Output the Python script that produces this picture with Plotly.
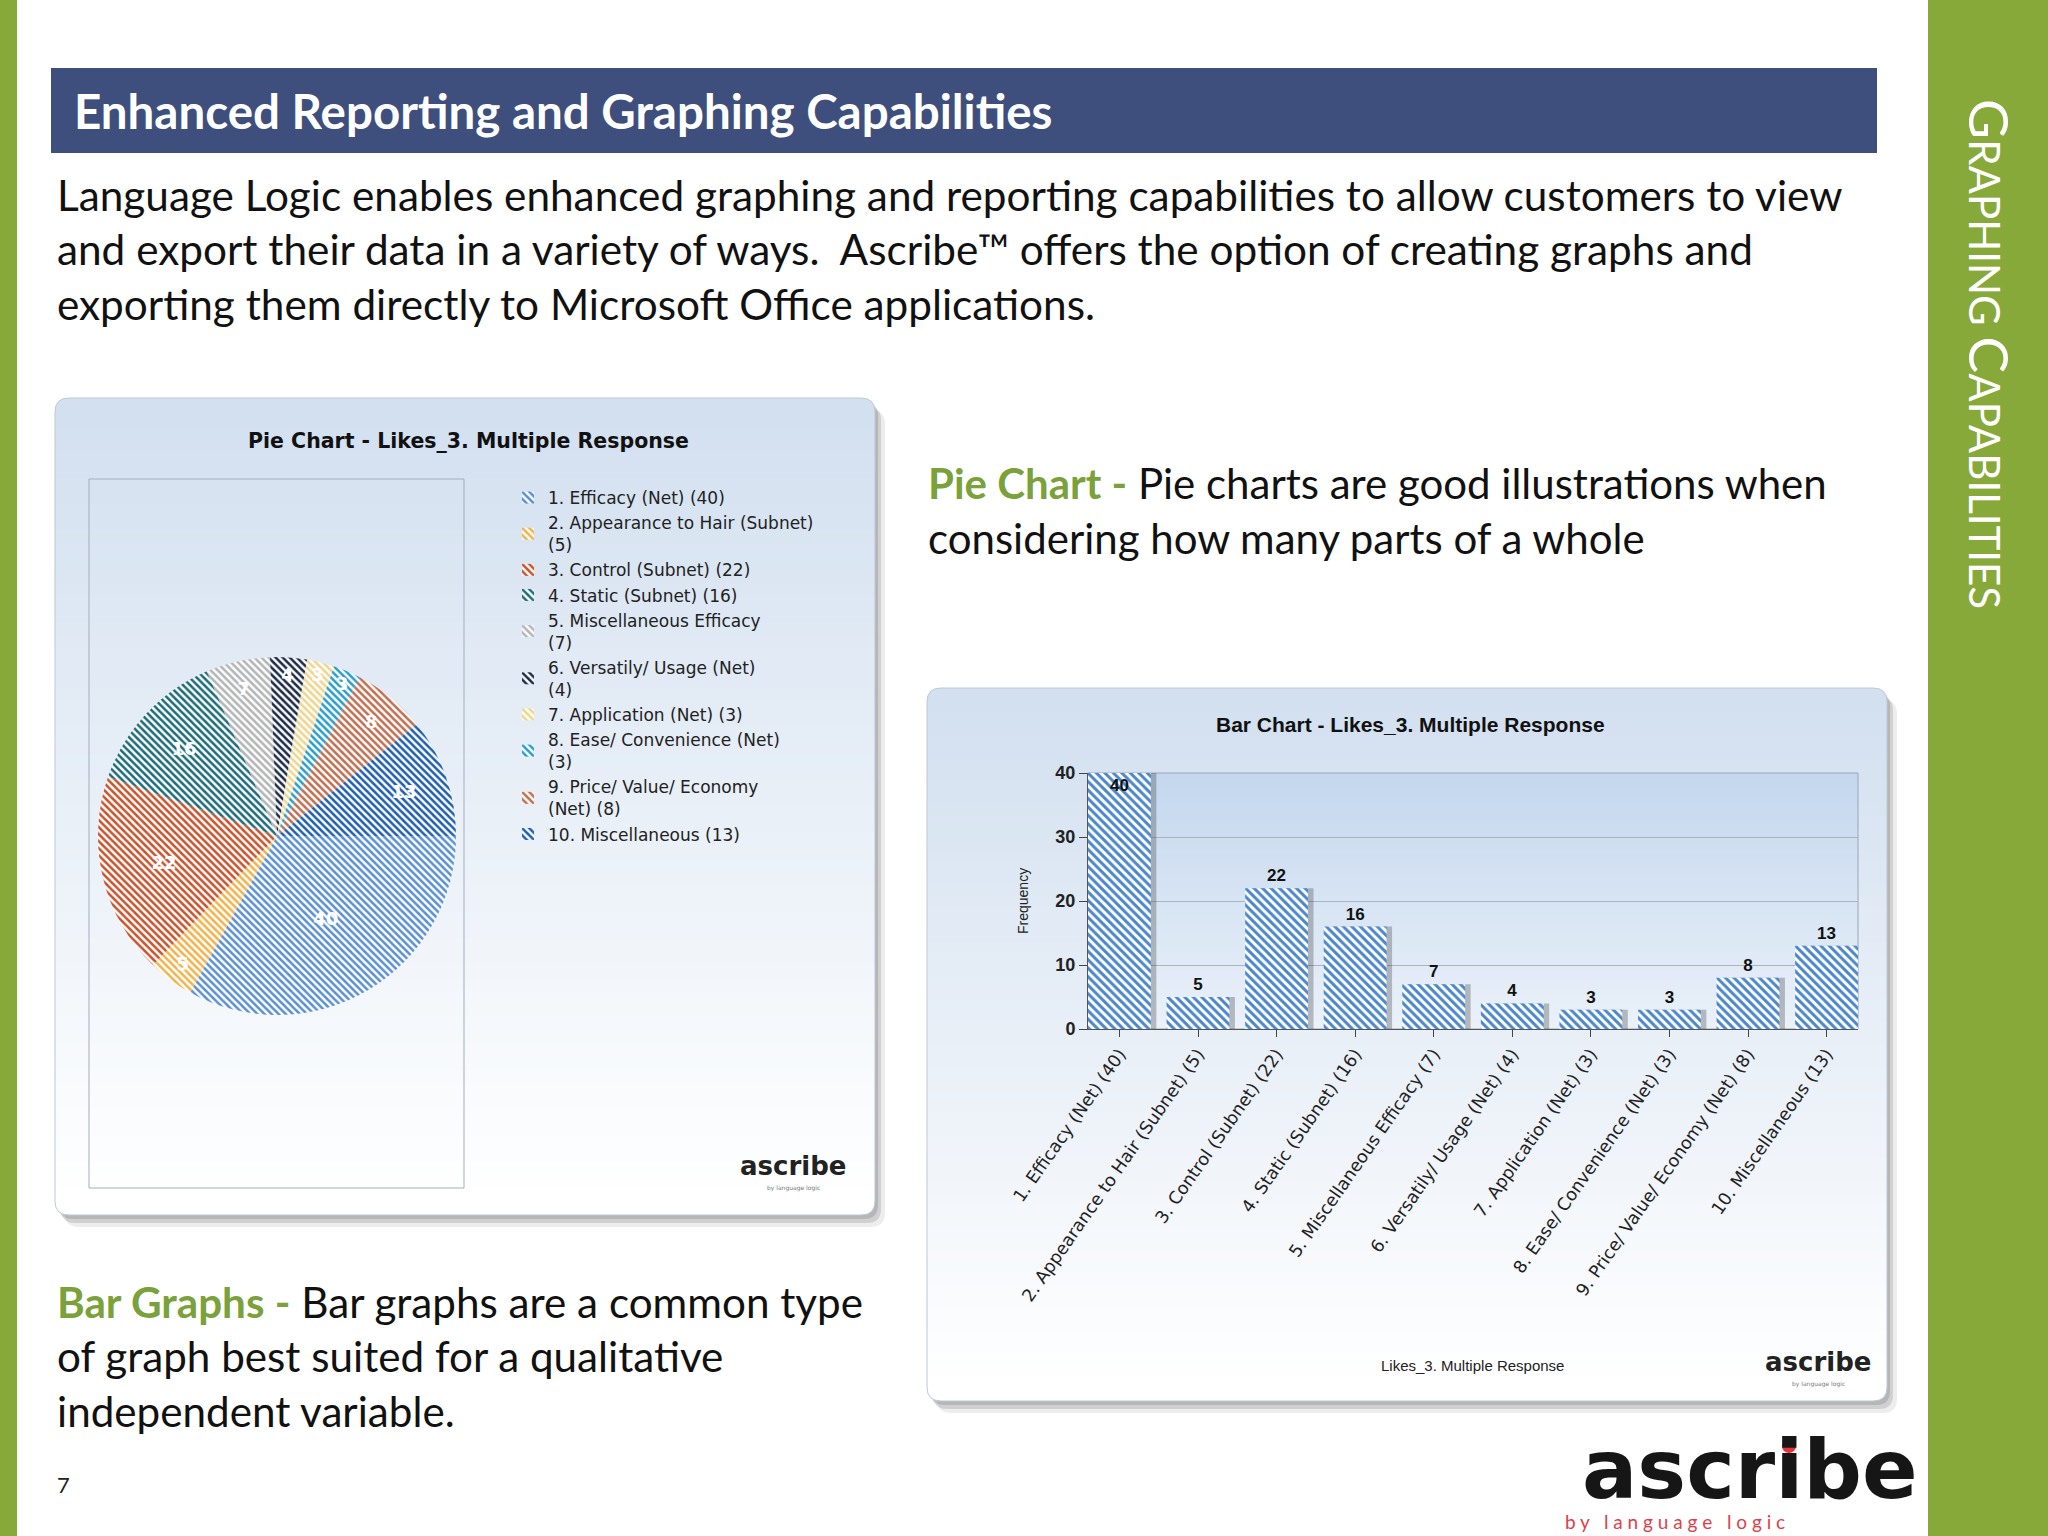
import plotly.graph_objects as go

W, H = 2048, 1536

# ---------------- data ----------------
categories = [
    "1. Efficacy (Net) (40)",
    "2. Appearance to Hair (Subnet) (5)",
    "3. Control (Subnet) (22)",
    "4. Static (Subnet) (16)",
    "5. Miscellaneous Efficacy (7)",
    "6. Versatily/ Usage (Net) (4)",
    "7. Application (Net) (3)",
    "8. Ease/ Convenience (Net) (3)",
    "9. Price/ Value/ Economy (Net) (8)",
    "10. Miscellaneous (13)",
]
pie_legend_labels = [
    "1. Efficacy (Net) (40)",
    "2. Appearance to Hair (Subnet)<br>(5)",
    "3. Control (Subnet) (22)",
    "4. Static (Subnet) (16)",
    "5. Miscellaneous Efficacy<br>(7)",
    "6. Versatily/ Usage (Net)<br>(4)",
    "7. Application (Net) (3)",
    "8. Ease/ Convenience (Net)<br>(3)",
    "9. Price/ Value/ Economy<br>(Net) (8)",
    "10. Miscellaneous (13)",
]
frequency = [40, 5, 22, 16, 7, 4, 3, 3, 8, 13]
slice_colors = ["#5a8fd0", "#f2b24a", "#c8522a", "#1d6b78", "#b4b4b4",
                "#1b2a45", "#f0d68a", "#2a9dc8", "#c06e4e", "#1f5dae"]
bar_color = "#4a86c8"
y_ticks = [0, 10, 20, 30, 40]
y_max = 40

pie_title = "Pie Chart - Likes_3. Multiple Response"
bar_title = "Bar Chart - Likes_3. Multiple Response"
bar_xtitle = "Likes_3. Multiple Response"
bar_ytitle = "Frequency"

# ---------------- helpers ----------------
def X(px):
    return px / W


def Y(py):
    return 1 - py / H


shapes = []
annotations = []


def rect(x0, y0, x1, y1, fill=None, line=None, lw=0, layer="below"):
    shapes.append(dict(type="rect", xref="paper", yref="paper",
                       x0=X(x0), x1=X(x1), y0=Y(y1), y1=Y(y0),
                       fillcolor=fill if fill else "rgba(0,0,0,0)",
                       line=dict(color=line if line else "rgba(0,0,0,0)", width=lw),
                       layer=layer))


def path(d, fill=None, line=None, lw=0, layer="below"):
    shapes.append(dict(type="path", xref="paper", yref="paper", path=d,
                       fillcolor=fill if fill else "rgba(0,0,0,0)",
                       line=dict(color=line if line else "rgba(0,0,0,0)", width=lw),
                       layer=layer))


def P(px, py):
    return f"{X(px):.6f},{Y(py):.6f}"


def rrect_d(x0, y0, x1, y1, r):
    return (f"M {P(x0 + r, y0)} L {P(x1 - r, y0)} Q {P(x1, y0)} {P(x1, y0 + r)} "
            f"L {P(x1, y1 - r)} Q {P(x1, y1)} {P(x1 - r, y1)} L {P(x0 + r, y1)} "
            f"Q {P(x0, y1)} {P(x0, y1 - r)} L {P(x0, y0 + r)} Q {P(x0, y0)} {P(x0 + r, y0)} Z")


def hex2rgb(h):
    h = h.lstrip("#")
    return tuple(int(h[i:i + 2], 16) for i in (0, 2, 4))


def mix(c1, c2, t):
    a, b = hex2rgb(c1), hex2rgb(c2)
    return "rgb(%d,%d,%d)" % tuple(round(a[i] + (b[i] - a[i]) * t) for i in range(3))


def gradient(x0, y0, x1, y1, ctop, cbot, n):
    h = (y1 - y0) / n
    for i in range(n):
        t = (i + 0.5) / n
        rect(x0, y0 + i * h, x1, min(y1, y0 + (i + 1) * h + 1), fill=mix(ctop, cbot, t))


def panel(x0, y0, x1, y1, r, ctop, cbot, n=60):
    # soft shadow
    path(rrect_d(x0 + 10, y0 + 12, x1 + 10, y1 + 12, r), fill="rgba(0,0,0,0.07)")
    path(rrect_d(x0 + 6, y0 + 8, x1 + 6, y1 + 8, r), fill="rgba(0,0,0,0.12)")
    path(rrect_d(x0 + 3, y0 + 4, x1 + 3, y1 + 4, r), fill="rgba(0,0,0,0.12)")
    # top strip with rounded corners
    rect(x0 + r, y0, x1 - r, y0 + r + 1, fill=ctop)
    path(f"M {P(x0, y0 + r + 1)} L {P(x0, y0 + r)} Q {P(x0, y0)} {P(x0 + r, y0)} L {P(x0 + r, y0 + r + 1)} Z", fill=ctop)
    path(f"M {P(x1, y0 + r + 1)} L {P(x1, y0 + r)} Q {P(x1, y0)} {P(x1 - r, y0)} L {P(x1 - r, y0 + r + 1)} Z", fill=ctop)
    gradient(x0, y0 + r, x1, y1 - r, ctop, cbot, n)
    rect(x0 + r, y1 - r - 1, x1 - r, y1, fill=cbot)
    path(f"M {P(x0, y1 - r - 1)} L {P(x0, y1 - r)} Q {P(x0, y1)} {P(x0 + r, y1)} L {P(x0 + r, y1 - r - 1)} Z", fill=cbot)
    path(f"M {P(x1, y1 - r - 1)} L {P(x1, y1 - r)} Q {P(x1, y1)} {P(x1 - r, y1)} L {P(x1 - r, y1 - r - 1)} Z", fill=cbot)
    path(rrect_d(x0, y0, x1, y1, r), line="rgba(190,200,215,1)", lw=1)


def ann(text, px, py, size, color="#111111", family="Lato", xanchor="left",
        yanchor="middle", angle=0):
    annotations.append(dict(text=text, x=X(px), y=Y(py), xref="paper", yref="paper",
                            xanchor=xanchor, yanchor=yanchor, showarrow=False,
                            textangle=angle,
                            font=dict(size=size, color=color, family=family)))


# ---------------- slide decoration ----------------
green = "#87a93a"
rect(0, 0, 17, H, fill=green)
rect(1928, 0, W, H, fill=green)
rect(51, 68, 1877, 153, fill="#3e4f7d")

ann("<b>Enhanced Reporting and Graphing Capabilities</b>", 72, 110, 47.5, color="#ffffff")
body = [
    "Language Logic enables enhanced graphing and reporting capabilities to allow customers to view",
    "and export their data in a variety of ways.  Ascribe\u2122 offers the option of creating graphs and",
    "exporting them directly to Microsoft Office applications.",
]
for i, line in enumerate(body):
    ann(line, 55, 194 + i * 54.5, 42.3)

ann('<span style="font-size:55px">G</span>RAPHING <span style="font-size:55px">C</span>APABILITIES',
    1990, 354, 42, color="#ffffff", xanchor="center", angle=90)

ann('<b><span style="color:#7ba23a">Pie Chart -</span></b> Pie charts are good illustrations when', 926, 483, 42)
ann("considering how many parts of a whole", 926, 538, 42)

ann('<b><span style="color:#7ba23a">Bar Graphs -</span></b> Bar graphs are a common type', 55, 1301, 42.2)
ann("of graph best suited for a qualitative", 55, 1355, 42.2)
ann("independent variable.", 55, 1410, 42.2)

ann("7", 55, 1484, 22, color="#222222")

# big logo
ann("<b>ascribe</b>", 1750, 1469, 82, color="#161616", family="DejaVu Sans", xanchor="center")
shapes.append(dict(type="circle", xref="paper", yref="paper",
                   x0=X(1782), x1=X(1796), y0=Y(1453), y1=Y(1439),
                   fillcolor="#e8333b", line=dict(width=0), layer="above"))
ann("b y   l a n g u a g e   l o g i c", 1675, 1521, 19, color="#e0404a", family="Lato", xanchor="center")

# ---------------- pie panel ----------------
panel(55, 398, 875, 1215, 14, "#d3e0f0", "#ffffff")
rect(89, 479, 464, 1188, line="#a3adbd", lw=1)
ann("<b>" + pie_title + "</b>", 468, 441, 20.5, color="#111111", family="DejaVu Sans", xanchor="center")
ann("<b>ascribe</b>", 793, 1166, 26, color="#222222", family="DejaVu Sans", xanchor="center")
ann("by language logic", 793, 1188, 6, color="#777777", family="DejaVu Sans", xanchor="center")

# ---------------- bar panel ----------------
panel(927, 688, 1887, 1401, 14, "#d3e0f0", "#ffffff")
gradient(1088, 773, 1858, 1029, "#c4d7ee", "#eaf1f9", 40)
rect(1088, 773, 1858, 1029, line="#9aa6b6", lw=1)
ann("<b>" + bar_title + "</b>", 1410, 725, 21, color="#111111", family="Liberation Sans", xanchor="center")
ann(bar_xtitle, 1472, 1365, 15, color="#222222", family="Liberation Sans Narrow, Liberation Sans", xanchor="center")
ann(bar_ytitle, 1023, 901, 14, color="#222222", family="Liberation Sans Narrow, Liberation Sans",
    xanchor="center", angle=-90)
ann("<b>ascribe</b>", 1818, 1362, 26, color="#222222", family="DejaVu Sans", xanchor="center")
ann("by language logic", 1818, 1384, 6, color="#777777", family="DejaVu Sans", xanchor="center")

# ---------------- traces ----------------
fig = go.Figure()

pie_cx, pie_cy, pie_r = 277, 836, 179
fig.add_trace(go.Pie(
    labels=pie_legend_labels,
    values=frequency,
    sort=False,
    direction="clockwise",
    rotation=90,
    textinfo="value",
    texttemplate="<b>%{value}</b>",
    textposition="inside",
    insidetextorientation="horizontal",
    textfont=dict(family="DejaVu Sans", size=18, color="#ffffff"),
    marker=dict(colors=slice_colors, line=dict(width=0),
                pattern=dict(shape="\\", fillmode="replace", bgcolor="rgba(255,255,255,0.85)",
                             size=5, solidity=0.5)),
    domain=dict(x=[X(pie_cx - pie_r), X(pie_cx + pie_r)],
                y=[Y(pie_cy + pie_r), Y(pie_cy - pie_r)]),
    hoverinfo="skip",
    showlegend=True,
))

# bar shadows
fig.add_trace(go.Bar(
    x=categories, y=frequency, width=0.8, offset=-0.33,
    marker=dict(color="rgba(40,40,40,0.28)", line=dict(width=0)),
    showlegend=False, hoverinfo="skip", xaxis="x", yaxis="y",
))

text_pos = ["inside" if v >= 0.95 * y_max else "outside" for v in frequency]
fig.add_trace(go.Bar(
    x=categories, y=frequency, width=0.8, offset=-0.4,
    marker=dict(color=bar_color, line=dict(width=0),
                pattern=dict(shape="\\", fillmode="replace", bgcolor="#ffffff",
                             size=6, solidity=0.5)),
    text=[str(v) for v in frequency],
    textposition=text_pos,
    insidetextanchor="end",
    textfont=dict(family="Liberation Sans Narrow, Liberation Sans", size=17, color="#111111"),
    texttemplate="<b>%{text}</b>",
    cliponaxis=False,
    showlegend=False, hoverinfo="skip", xaxis="x", yaxis="y",
))

fig.update_layout(
    width=W, height=H,
    margin=dict(l=0, r=0, t=0, b=0, autoexpand=False),
    paper_bgcolor="#ffffff",
    plot_bgcolor="rgba(0,0,0,0)",
    barmode="overlay",
    hovermode=False,
    shapes=shapes,
    annotations=annotations,
    showlegend=True,
    legend=dict(x=X(508), y=Y(480), xanchor="left", yanchor="top",
                font=dict(family="DejaVu Sans", size=17, color="#222222"),
                bgcolor="rgba(0,0,0,0)", tracegroupgap=0, itemwidth=30),
    xaxis=dict(domain=[X(1088), X(1858)], anchor="y", type="category",
               range=[-0.4, 9.4], tickangle=-55, automargin=False,
               tickfont=dict(family="DejaVu Sans", size=17.5, color="#222222"),
               ticks="outside", ticklen=7, tickcolor="#444444",
               showline=True, linecolor="#555555", linewidth=1, showgrid=False),
    yaxis=dict(domain=[Y(1029), Y(773)], anchor="x", range=[0, y_max],
               tickvals=y_ticks, automargin=False,
               tickfont=dict(family="Liberation Sans", size=18, color="#222222", weight="bold"),
               ticks="outside", ticklen=8, tickcolor="#444444",
               showline=True, linecolor="#555555", linewidth=1,
               gridcolor="#a9b3c2", gridwidth=1, zeroline=False),
)

fig.write_html("out.html", config={"displayModeBar": False},
               post_script="document.body.style.margin='0';document.body.style.overflow='hidden';")
